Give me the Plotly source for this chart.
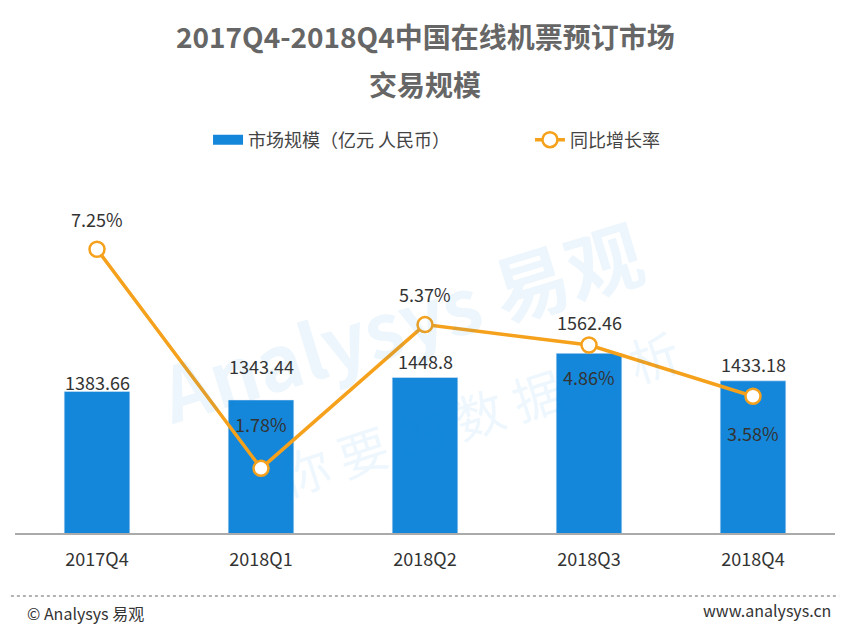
import plotly.graph_objects as go

# data
quarters = ["2017Q4", "2018Q1", "2018Q2", "2018Q3", "2018Q4"]
market_size = [1383.66, 1343.44, 1448.8, 1562.46, 1433.18]
growth_rate = [7.25, 1.78, 5.37, 4.86, 3.58]
size_labels = ["1383.66", "1343.44", "1448.8", "1562.46", "1433.18"]
rate_labels = ["7.25%", "1.78%", "5.37%", "4.86%", "3.58%"]

# label offsets (px) so the labels dodge the line, like the original
size_shift = [9, 34, 17, 31, 17]
rate_shift = [30, 44, 31, -32, -37]

FONT = "Noto Sans CJK SC"
BLUE = "#1487DA"
ORANGE = "#F5A11C"
PH = 363.0  # plot height in px, used to place paper-ref texts

fig = go.Figure()

fig.add_trace(go.Bar(
    x=quarters, y=market_size, name="市场规模（亿元 人民币）",
    marker=dict(color=BLUE), width=0.4, yaxis="y", showlegend=False))
# legend entry drawn as a wide bar swatch
fig.add_trace(go.Scatter(
    x=[None], y=[None], name="市场规模（亿元 人民币）", mode="lines",
    line=dict(color=BLUE, width=11), legend="legend"))

fig.add_trace(go.Scatter(
    x=quarters, y=growth_rate, name="同比增长率", yaxis="y2",
    mode="lines+markers", legend="legend2",
    line=dict(color=ORANGE, width=3.5),
    marker=dict(size=15, color="white", line=dict(color=ORANGE, width=2.5))))

annos = []

# watermark (drawn first so the labels sit on top)
annos.append(dict(x=0.47, y=0.587, xref="paper", yref="paper", text="<b>Analysys 易观</b>",
                  showarrow=False, textangle=-17, yanchor="middle",
                  font=dict(size=76, color="rgba(20,140,220,0.075)", family=FONT)))
annos.append(dict(x=0.565, y=0.333, xref="paper", yref="paper", text="你 要 的 数 据 分 析",
                  showarrow=False, textangle=-18, yanchor="middle",
                  font=dict(size=50, color="rgba(20,140,220,0.07)", family=FONT)))

for q, v, t, s in zip(quarters, market_size, size_labels, size_shift):
    annos.append(dict(x=q, y=v, xref="x", yref="y", text=t, showarrow=False,
                      yshift=s, font=dict(size=18, color="#333333", family=FONT)))
for q, v, t, s in zip(quarters, growth_rate, rate_labels, rate_shift):
    annos.append(dict(x=q, y=v, xref="x", yref="y2", text=t, showarrow=False,
                      yshift=s, font=dict(size=18, color="#333333", family=FONT)))

# title lines
title_lines = ["2017Q4-2018Q4中国在线机票预订市场", "交易规模"]
for i, line in enumerate(title_lines):
    annos.append(dict(x=0.5, y=1 + (170 - 36 - 48 * i) / PH, xref="paper", yref="paper",
                      yanchor="middle", text="<b>" + line + "</b>", showarrow=False,
                      font=dict(size=28, color="#666666", family=FONT)))

# footer
annos.append(dict(x=0, y=-(613 - 533) / PH, xref="paper", yref="paper", yanchor="middle",
                  text="© Analysys 易观", showarrow=False, xanchor="left", xshift=10,
                  font=dict(size=16, color="#333333", family=FONT)))
annos.append(dict(x=1, y=-(610 - 533) / PH, xref="paper", yref="paper", yanchor="middle",
                  text="www.analysys.cn", showarrow=False, xanchor="right", xshift=-2,
                  font=dict(size=16, color="#333333", family=FONT)))

legend_style = dict(orientation="h", xanchor="left", y=1 + 30 / PH, yanchor="middle",
                    font=dict(size=18, color="#444444"))

fig.update_layout(
    width=844, height=617,
    margin=dict(l=7, r=17, t=162, b=92),
    paper_bgcolor="white", plot_bgcolor="white",
    font=dict(family=FONT, color="#333333"),
    showlegend=True,
    legend=dict(x=0.2354, **legend_style),
    legend2=dict(x=0.628, **legend_style),
    xaxis=dict(showline=True, linecolor="#aaaaaa", linewidth=1.5, ticks="",
               ticklabelstandoff=10,
               tickfont=dict(size=18, color="#333333"), showgrid=False),
    yaxis=dict(range=[719, 2423], visible=False, showgrid=False),
    yaxis2=dict(range=[0.165, 9.23], overlaying="y", visible=False, showgrid=False),
    annotations=annos,
    shapes=[dict(type="line", xref="paper", yref="paper", x0=-0.005, x1=1.005,
                 y0=-(596 - 533) / PH, y1=-(596 - 533) / PH,
                 line=dict(color="#999999", width=1.5, dash="dot"))],
)

fig.write_html("out.html")
